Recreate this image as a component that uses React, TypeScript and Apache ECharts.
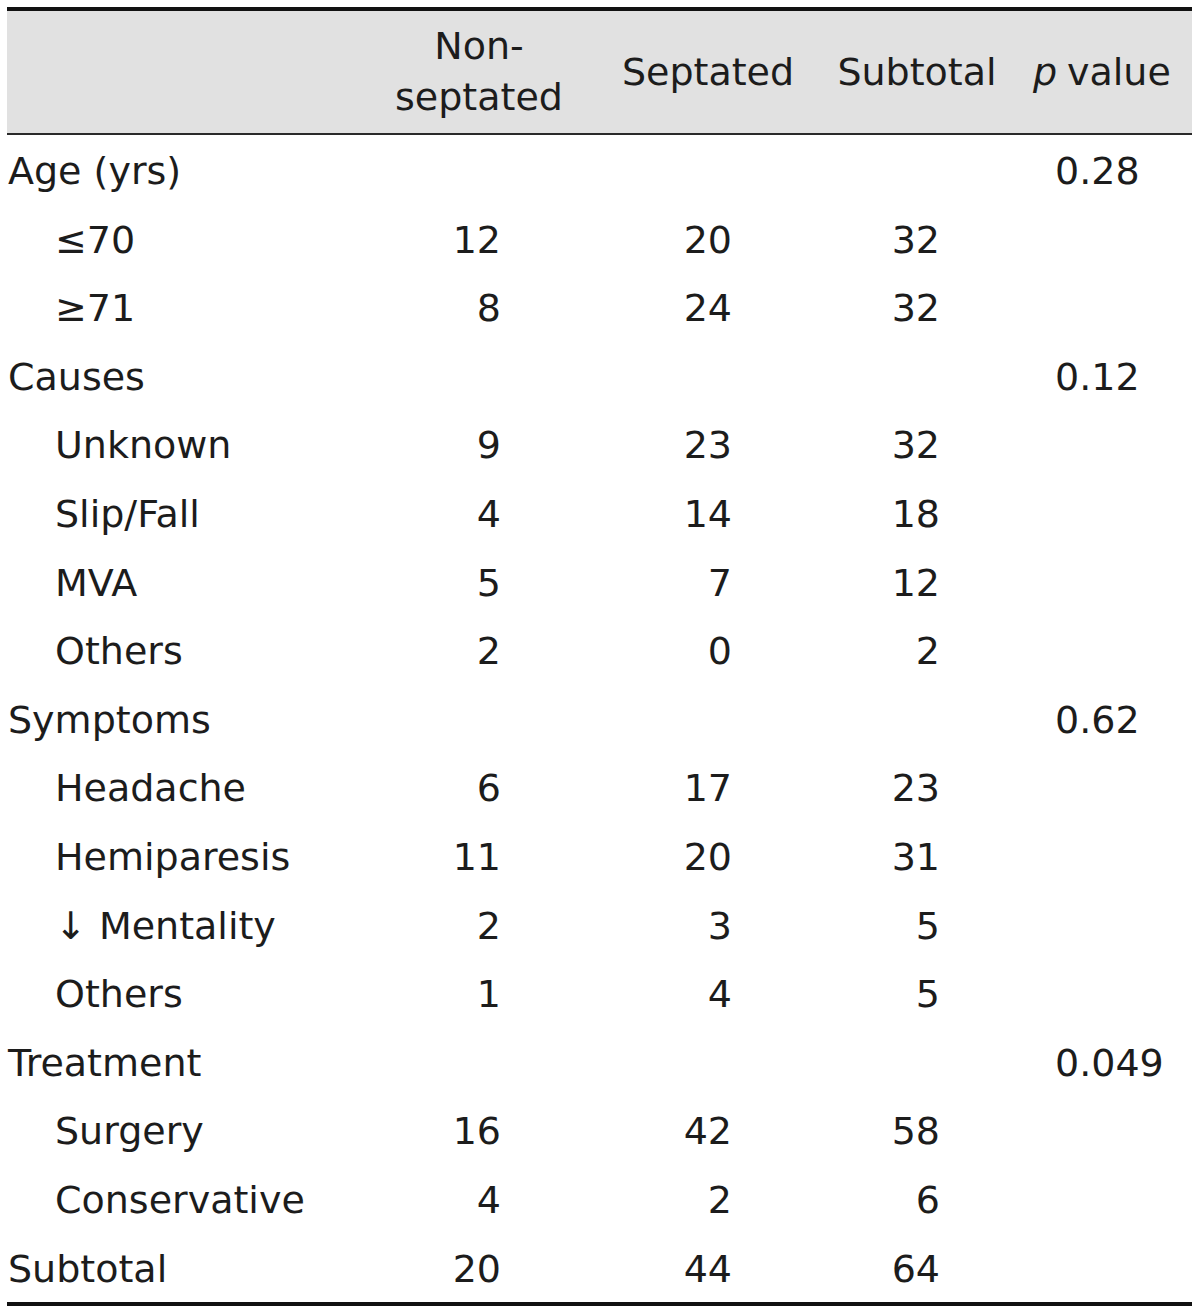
import React, { useEffect, useRef } from "react";
import * as echarts from "echarts";

const rowLabels = [
  "Age (yrs)", "≤70", "≥71",
  "Causes", "Unknown", "Slip/Fall", "MVA", "Others",
  "Symptoms", "Headache", "Hemiparesis", "↓ Mentality", "Others",
  "Treatment", "Surgery", "Conservative",
  "Subtotal",
];
const rowIndent = [0, 1, 1, 0, 1, 1, 1, 1, 0, 1, 1, 1, 1, 0, 1, 1, 0];
const nonSeptated = ["", "12", "8", "", "9", "4", "5", "2", "", "6", "11", "2", "1", "", "16", "4", "20"];
const septated = ["", "20", "24", "", "23", "14", "7", "0", "", "17", "20", "3", "4", "", "42", "2", "44"];
const subtotal = ["", "32", "32", "", "32", "18", "12", "2", "", "23", "31", "5", "5", "", "58", "6", "64"];
const pValues = ["0.28", "", "", "0.12", "", "", "", "", "0.62", "", "", "", "", "0.049", "", "", ""];
const headerCols = ["Non-\nseptated", "Septated", "Subtotal"];

const FONT_FAMILY = '"DejaVu Sans", sans-serif';
const FS = 38;
const INK = "#1c1c1c";

export default function App() {
  const ref = useRef<HTMLDivElement>(null);
  useEffect(() => {
    document.body.style.margin = "0";
    if (!ref.current) return;
    const chart = echarts.init(ref.current, undefined, { renderer: "svg" });

    const left = 7;
    const right = 1192;
    const rowY0 = 171; // centre of first row
    const rowStep = 68.6;
    const colRight = [501, 732, 940];
    const headerCenters = [479, 708, 917];
    const pLeft = 1055;

    const font = `${FS}px ${FONT_FAMILY}`;
    const elements: any[] = [];

    elements.push({ type: "rect", shape: { x: left, y: 11, width: right - left, height: 122 }, style: { fill: "#e1e1e1" }, silent: true });
    elements.push({ type: "rect", shape: { x: left, y: 7, width: right - left, height: 4 }, style: { fill: "#111" }, silent: true });
    elements.push({ type: "rect", shape: { x: left, y: 133, width: right - left, height: 2 }, style: { fill: "#2a2a2a" }, silent: true });
    elements.push({ type: "rect", shape: { x: left, y: 1302, width: right - left, height: 4 }, style: { fill: "#111" }, silent: true });

    const mid = (text: string, x: number, y: number, align: string, f = font) => ({
      type: "text",
      style: { text, x, y, font: f, fill: INK, textAlign: align, textVerticalAlign: "middle", verticalAlign: "middle" },
    });

    headerCols.forEach((h, i) => {
      const lines = h.split("\n");
      const ys = lines.length === 1 ? [72] : [46, 97];
      lines.forEach((ln, j) => elements.push(mid(ln, headerCenters[i], ys[j], "center")));
    });
    elements.push(mid("p", 1057, 72, "right", `italic ${FS}px ${FONT_FAMILY}`));
    elements.push(mid("value", 1067, 72, "left"));

    rowLabels.forEach((lab, r) => {
      const y = rowY0 + r * rowStep;
      elements.push(mid(lab, rowIndent[r] ? 55 : 8, y, "left"));
      [nonSeptated, septated, subtotal].forEach((arr, c) => {
        if (arr[r]) elements.push(mid(arr[r], colRight[c], y, "right"));
      });
      if (pValues[r]) elements.push(mid(pValues[r], pLeft, y, "left"));
    });

    chart.setOption({
      animation: false,
      backgroundColor: "#ffffff",
      graphic: { elements },
    });
    return () => chart.dispose();
  }, []);
  return <div ref={ref} style={{ width: 1200, height: 1314 }} />;
}
